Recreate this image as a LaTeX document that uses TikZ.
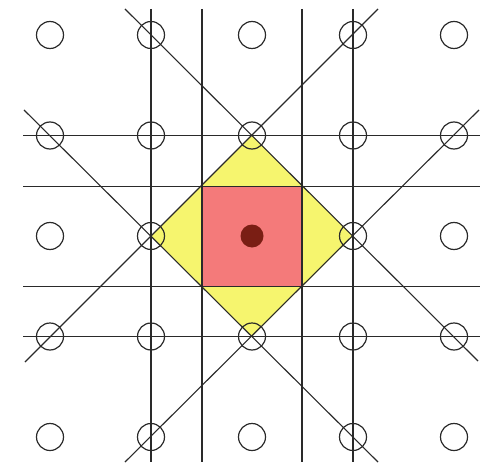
\documentclass[tikz,border=0pt]{standalone}
\usetikzlibrary{calc}
\definecolor{diamondyellow}{HTML}{F6F56E}
\definecolor{squarered}{HTML}{F47A7A}
\definecolor{dotred}{HTML}{7A1E14}
\definecolor{ink}{HTML}{2A2A2A}
\tikzset{
  pt/.style={circle, draw=ink, line width=1.2pt, minimum size=27pt, inner sep=0pt},
  gridline/.style={draw=ink, line width=1.1pt},
}
\begin{document}
\begin{tikzpicture}[x=1pt,y=-1pt]
\useasboundingbox (0,0) rectangle (494,470);
% lattice coordinates
\foreach \i/\x in {0/50,1/151,2/252,3/353,4/454}{
  \foreach \j/\y in {0/35,1/135.5,2/236,3/336.5,4/437}{
    \coordinate (p\i\j) at (\x,\y);
  }
}
% fills
\fill[diamondyellow] (p21) -- (p32) -- (p23) -- (p12) -- cycle;
\coordinate (s1) at (202,186.5);
\coordinate (s2) at (302,186.5);
\coordinate (s3) at (302,286.5);
\coordinate (s4) at (202,286.5);
\fill[squarered] (s1) -- (s2) -- (s3) -- (s4) -- cycle;
% line end points
\coordinate (v1t) at (151,9);   \coordinate (v1b) at (151,462);
\coordinate (v2t) at (202,9);   \coordinate (v2b) at (202,462);
\coordinate (v3t) at (302,9);   \coordinate (v3b) at (302,462);
\coordinate (v4t) at (353,9);   \coordinate (v4b) at (353,462);
\coordinate (h1l) at (23,135.5);  \coordinate (h1r) at (480,135.5);
\coordinate (h2l) at (23,186.5);  \coordinate (h2r) at (480,186.5);
\coordinate (h3l) at (23,286.5);  \coordinate (h3r) at (480,286.5);
\coordinate (h4l) at (23,336.5);  \coordinate (h4r) at (480,336.5);
\coordinate (d1a) at (125,9);   \coordinate (d1b) at (478,361);
\coordinate (d2a) at (24,110);  \coordinate (d2b) at (378,462);
\coordinate (d3a) at (378,9);   \coordinate (d3b) at (25,362);
\coordinate (d4a) at (479,110); \coordinate (d4b) at (125,462);
% lines
\foreach \k in {1,2,3,4}{
  \draw[gridline] (v\k t) -- (v\k b);
  \draw[gridline] (h\k l) -- (h\k r);
  \draw[gridline] (d\k a) -- (d\k b);
}
% circles
\foreach \i in {0,...,4}{
  \foreach \j in {0,...,4}{
    \ifnum\i=2 \ifnum\j=2 \else
      \node[pt] (c\i\j) at (p\i\j) {};
    \fi\else
      \node[pt] (c\i\j) at (p\i\j) {};
    \fi
  }
}
% centre dot
\node[circle, fill=dotred, minimum width=21pt, minimum height=23pt, inner sep=0pt] (centre) at (p22) {};
\end{tikzpicture}
\end{document}
